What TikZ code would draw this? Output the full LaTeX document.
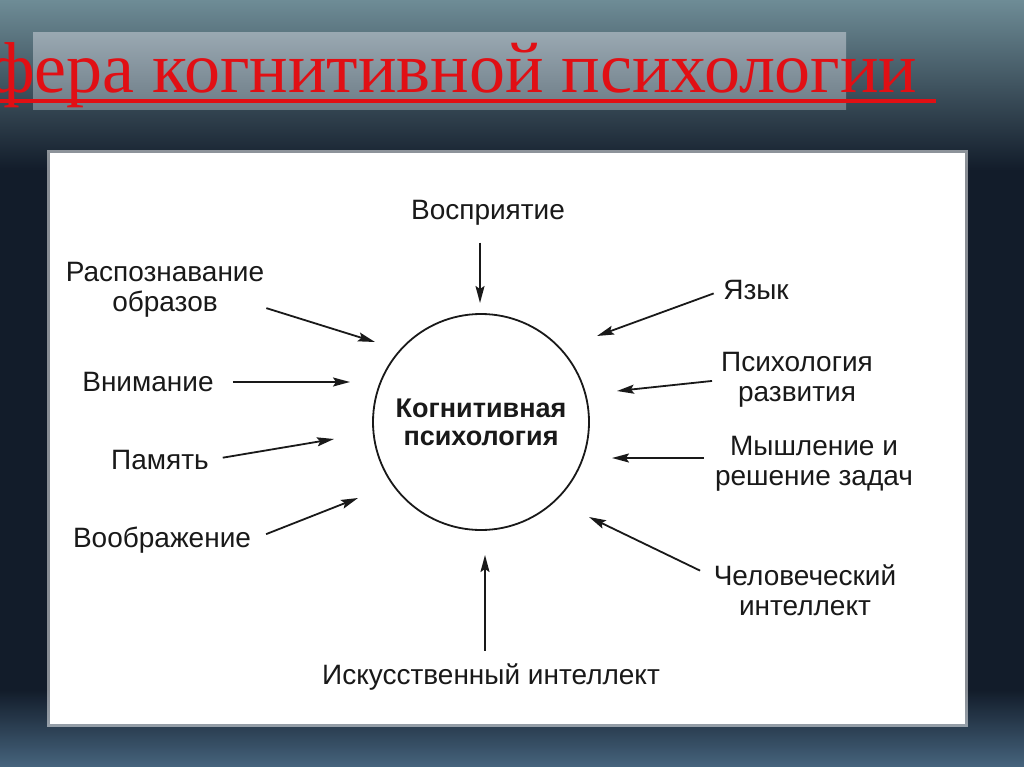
\documentclass[tikz,border=0pt]{standalone}
\usepackage{fontspec}
\setmainfont{Liberation Serif}
\setsansfont{Liberation Sans}
\usetikzlibrary{arrows.meta,calc}
\definecolor{slidebg}{RGB}{18,28,42}
\definecolor{gearteal}{RGB}{110,140,150}
\definecolor{gearblue}{RGB}{70,100,125}
\definecolor{titlebar}{RGB}{128,146,158}
\definecolor{titlered}{RGB}{225,15,20}
\definecolor{inkgray}{RGB}{25,25,25}

\begin{document}
\begin{tikzpicture}[x=1pt,y=-1pt,
    lbl/.style={font=\sffamily\fontsize{28}{30}\selectfont,align=center,inner sep=0pt,text=inkgray},
    arr/.style={-{Stealth[length=17pt,width=9pt,inset=3pt]},line width=1.8pt,draw=inkgray}]
    \useasboundingbox (0,0) rectangle (1024,767);
    \clip (0,0) rectangle (1024,767);
    % background
    \fill[slidebg] (0,0) rectangle (1024,767);
    \shade[top color=gearteal, bottom color=slidebg] (0,0) rectangle (1024,170);
    \shade[top color=slidebg, bottom color=gearblue] (0,690) rectangle (1024,767);
    % title bar
    \shade[top color=titlebar!80!white, bottom color=titlebar!85!black] (33,33) rectangle (846,110);
    \node[anchor=base west,font=\rmfamily\fontsize{72}{74}\selectfont,text=titlered,inner sep=0pt] (title) at (-12,93) {фера когнитивной психологии};
    \draw[titlered,line width=4pt] ($(title.base west)+(12,8)$) -- ($(title.base east)+(18,8)$);
    % white panel
    \fill[white,opacity=0.5] (47,150) rectangle (968,727);
    \fill[white] (50,153) rectangle (965,724);
    % centre
    \node[circle,draw=inkgray,line width=1.8pt,minimum size=216pt,inner sep=0pt,
          font=\sffamily\bfseries\fontsize{27}{28}\selectfont,align=center,text=inkgray] (core) at (481,422) {Когнитивная\\психология};
    % labels
    \node[lbl] (perc) at (488,213) {Восприятие};
    \node[lbl] (pat) at (165,290) {Распознавание\\образов};
    \node[lbl] (att) at (148,382) {Внимание};
    \node[lbl] (mem) at (160,460) {Память};
    \node[lbl] (ima) at (162,540) {Воображение};
    \node[lbl] (ai) at (491,677) {Искусственный интеллект};
    \node[lbl] (hum) at (805,590) {Человеческий\\интеллект};
    \node[lbl] (think) at (814,464) {Мышление и\\решение задач};
    \node[lbl] (dev) at (797,380) {Психология\\развития};
    \node[lbl] (lang) at (756,290) {Язык};
    % arrow tips near the circle
    \coordinate (t-perc) at (480,303);
    \coordinate (t-pat) at (375,342);
    \coordinate (t-att) at (350,382);
    \coordinate (t-mem) at (334,439);
    \coordinate (t-ima) at (358,498);
    \coordinate (t-ai) at (485,555);
    \coordinate (t-hum) at (589,517);
    \coordinate (t-think) at (612,458);
    \coordinate (t-dev) at (617,391);
    \coordinate (t-lang) at (597,336);
    % arrows
    \draw[arr,shorten <=17pt] (t-perc |- perc.south) -- (t-perc);
    \draw[arr,shorten <=2pt] (pat.-10) -- (t-pat);
    \draw[arr,shorten <=19pt] (att.east) -- (t-att);
    \draw[arr,shorten <=14pt] (mem.east) -- (t-mem);
    \draw[arr,shorten <=16pt] (ima.east) -- (t-ima);
    \draw[arr,shorten <=13pt] (t-ai |- ai.north) -- (t-ai);
    \draw[arr,shorten <=15pt] (hum.172) -- (t-hum);
    \draw[arr,shorten <=11pt] (t-think -| think.west) -- (t-think);
    \draw[arr,shorten <=9pt] (dev.west) -- (t-dev);
    \draw[arr,shorten <=10pt] (lang.west) -- (t-lang);
\end{tikzpicture}
\end{document}
